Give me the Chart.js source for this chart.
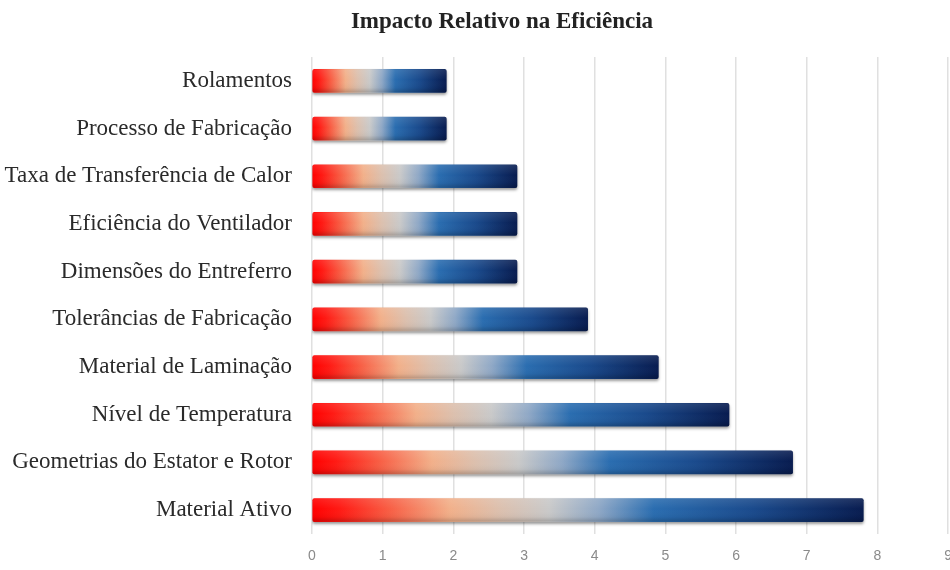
<!DOCTYPE html>
<html lang="pt">
<head>
<meta charset="utf-8">
<title>Impacto Relativo na Eficiência</title>
<script src="https://cdn.jsdelivr.net/npm/chart.js@4.4.1/dist/chart.umd.min.js"></script>
<style>
  html, body { margin: 0; padding: 0; background: #fff; overflow: hidden; }
  /* a little wider than the window so the last tick label gets cut at the edge */
  #wrap { position: relative; width: 966px; height: 570px; }
</style>
</head>
<body>
<div id="wrap"><canvas id="impacto"></canvas></div>
<script>
// factors, top to bottom
const fatores = [
  'Rolamentos',
  'Processo de Fabricação',
  'Taxa de Transferência de Calor',
  'Eficiência do Ventilador',
  'Dimensões do Entreferro',
  'Tolerâncias de Fabricação',
  'Material de Laminação',
  'Nível de Temperatura',
  'Geometrias do Estator e Rotor',
  'Material Ativo'
]
const impacto = [1.9, 1.9, 2.9, 2.9, 2.9, 3.9, 4.9, 5.9, 6.8, 7.8]
const eixoX = [0, 1, 2, 3, 4, 5, 6, 7, 8, 9]
const titulo = 'Impacto Relativo na Eficiência'

// red -> peach -> grey -> blue -> navy, stretched over each bar
const paradas = [
  [0.00, '#ff0000'],
  [0.05, '#ff1a14'],
  [0.14, '#f85e44'],
  [0.25, '#f2b08a'],
  [0.34, '#dcc0ae'],
  [0.43, '#c9c9c9'],
  [0.52, '#8fa8c6'],
  [0.62, '#2a6db0'],
  [0.80, '#1a4a8c'],
  [1.00, '#081c50']
]

const serif = '"Liberation Serif", "Times New Roman", serif'

function barGradient(context) {
  const chart = context.chart
  if (!chart.chartArea || context.type !== 'data') return '#2a6db0'
  const x = chart.scales.x
  const x0 = x.getPixelForValue(0)
  const x1 = x.getPixelForValue(impacto[context.dataIndex])
  const g = chart.ctx.createLinearGradient(x0, 0, x1, 0)
  paradas.forEach(p => g.addColorStop(p[0], p[1]))
  return g
}

// soft drop shadow under the bars + a bit of vertical shading on top
const barShading = {
  id: 'barShading',
  beforeDatasetDraw(chart) {
    const ctx = chart.ctx
    ctx.save()
    ctx.shadowColor = 'rgba(0,0,0,0.4)'
    ctx.shadowBlur = 3
    ctx.shadowOffsetY = 2
  },
  afterDatasetDraw(chart) {
    chart.ctx.restore()
  },
  afterDatasetsDraw(chart) {
    const ctx = chart.ctx
    const meta = chart.getDatasetMeta(0)
    ctx.save()
    meta.data.forEach(bar => {
      const top = bar.y - bar.height / 2
      const g = ctx.createLinearGradient(0, top, 0, top + bar.height)
      g.addColorStop(0, 'rgba(255,255,255,0.1)')
      g.addColorStop(0.45, 'rgba(255,255,255,0)')
      g.addColorStop(0.8, 'rgba(0,0,0,0.04)')
      g.addColorStop(1, 'rgba(0,0,0,0.2)')
      ctx.fillStyle = g
      ctx.fillRect(bar.base, top, bar.x - bar.base, bar.height)
    })
    ctx.restore()
  }
}

// title sits a bit right of the page centre
const tituloPlugin = {
  id: 'tituloPlugin',
  afterDraw(chart) {
    const ctx = chart.ctx
    ctx.save()
    ctx.font = 'bold 23px ' + serif
    ctx.fillStyle = '#222'
    ctx.textAlign = 'center'
    ctx.textBaseline = 'middle'
    ctx.fillText(titulo, 502, 22)
    ctx.restore()
  }
}

const ctx = document.getElementById('impacto').getContext('2d')

new Chart(ctx, {
  type: 'bar',
  data: {
    labels: fatores,
    datasets: [{
      label: 'Impacto',
      data: impacto,
      backgroundColor: barGradient,
      borderRadius: 2,
      borderSkipped: false,
      barThickness: 23
    }]
  },
  plugins: [barShading, tituloPlugin],
  options: {
    indexAxis: 'y',
    responsive: true,
    maintainAspectRatio: false,
    animation: false,
    layout: { padding: { left: 0, right: 0, top: 57, bottom: 0 } },
    plugins: {
      legend: { display: false },
      tooltip: { enabled: false },
      title: { display: false }
    },
    scales: {
      x: {
        type: 'linear',
        min: eixoX[0],
        max: eixoX[eixoX.length - 1],
        border: { display: false },
        grid: { color: '#e0e0e0', lineWidth: 1.5, drawTicks: false },
        afterBuildTicks: scale => { scale.ticks = eixoX.map(v => ({ value: v })) },
        afterFit: scale => { scale.height = 36 },
        ticks: {
          color: '#8a8a8a',
          padding: 14,
          font: { family: '"Liberation Sans", sans-serif', size: 14 },
          maxRotation: 0
        }
      },
      y: {
        border: { display: false },
        grid: { display: false, drawTicks: false },
        afterFit: scale => { scale.width = 312 },
        ticks: {
          color: '#2a2a2a',
          padding: 20,
          font: { family: serif, size: 23 }
        }
      }
    }
  }
})
</script>
</body>
</html>
